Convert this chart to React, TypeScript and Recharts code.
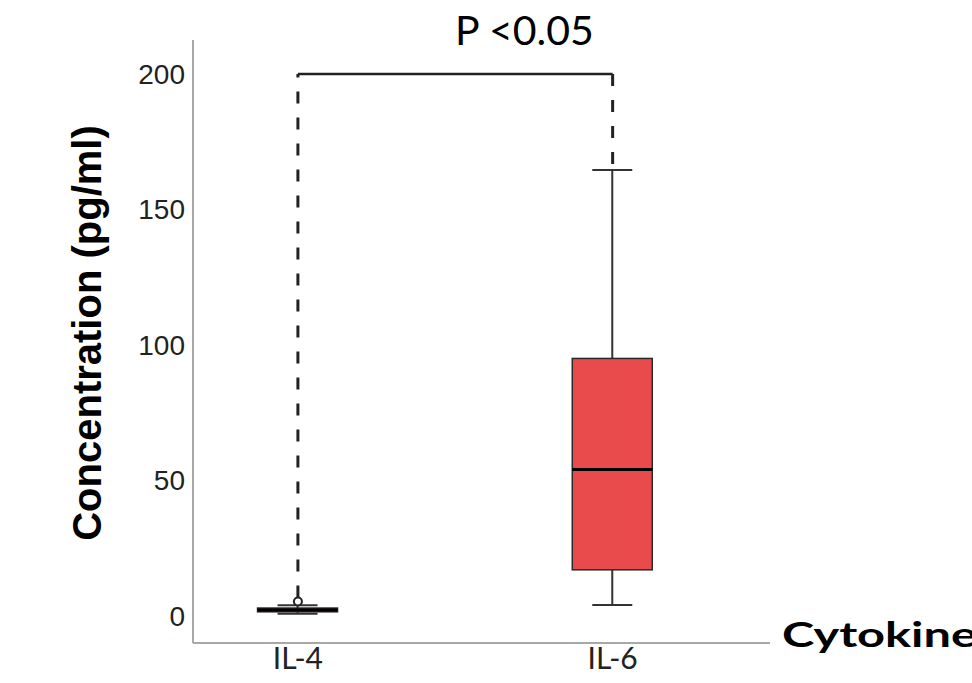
import React from 'react';
import { ComposedChart, XAxis, YAxis, Bar, Line, Scatter, Customized } from 'recharts';

const categories = ['IL-4', 'IL-6'];
const positions = [1, 2];
const whiskerLow = [0.8, 4];
const q1 = [1.5, 17];
const median = [2.2, 54];
const q3 = [2.9, 95];
const whiskerHigh = [3.9, 164.5];
const outlierPositions = [1];
const outlierValues = [5.3];
const yTicks = [0, 50, 100, 150, 200];
const bracketY = 200;
const legBottom = [6.8, 164.5];
const pLabel = 'P <0.05';
const yLabel = 'Concentration (pg/ml)';
const xLabel = 'Cytokine';
const boxColors = ['#5a1a1a', '#E94A4B'];

const boxData = categories.map((c, i) => ({
  x: positions[i],
  name: c,
  lo: whiskerLow[i],
  q1: q1[i],
  med: median[i],
  q3: q3[i],
  hi: whiskerHigh[i],
  color: boxColors[i],
}));

const outlierData = outlierValues.map((v, i) => ({ x: outlierPositions[i], y: v }));
const leftLeg = [
  { x: positions[0], y: legBottom[0] },
  { x: positions[0], y: bracketY },
];
const topBar = [
  { x: positions[0], y: bracketY },
  { x: positions[1], y: bracketY },
];
const rightLeg = [
  { x: positions[1], y: bracketY },
  { x: positions[1], y: legBottom[1] },
];

const BoxShape = (props: any) => {
  const { x, y, width, height, payload } = props;
  const top = Math.min(y, y + height);
  const h = Math.abs(height);
  const ppu = h / (payload.q3 - payload.q1);
  const bottom = top + h;
  const yOf = (v: number) => bottom - (v - payload.q1) * ppu;
  const cx = x + width / 2;
  const capHalf = width / 4;
  const stroke = '#333';
  return (
    <g>
      <line x1={cx} x2={cx} y1={yOf(payload.q3)} y2={yOf(payload.hi)} stroke={stroke} strokeWidth={2} />
      <line x1={cx} x2={cx} y1={yOf(payload.q1)} y2={yOf(payload.lo)} stroke={stroke} strokeWidth={2} />
      <line x1={cx - capHalf} x2={cx + capHalf} y1={yOf(payload.hi)} y2={yOf(payload.hi)} stroke={stroke} strokeWidth={2} />
      <line x1={cx - capHalf} x2={cx + capHalf} y1={yOf(payload.lo)} y2={yOf(payload.lo)} stroke={stroke} strokeWidth={2} />
      <rect x={x} y={top} width={width} height={h} fill={payload.color} stroke="#2a2a2a" strokeWidth={1.5} />
      <line x1={x} x2={x + width} y1={yOf(payload.med)} y2={yOf(payload.med)} stroke="#000" strokeWidth={3} />
    </g>
  );
};

const OutlierShape = (props: any) => {
  const { cx, cy } = props;
  return <circle cx={cx} cy={cy} r={4} fill="#fff" stroke="#222" strokeWidth={2} />;
};

const Texts = () => (
  <g>
    <text x={455} y={45} fontFamily="Lato" fontSize={41} fill="#000">{pLabel}</text>
    <text x={782} y={647} fontFamily="Lato" fontWeight="bold" fontSize={35} fill="#000" textLength={195} lengthAdjust="spacingAndGlyphs">{xLabel}</text>
    <text
      x={0}
      y={0}
      transform="translate(101,333) rotate(-90)"
      textAnchor="middle"
      fontFamily="Liberation Sans, Arial"
      fontWeight="bold"
      fontSize={40}
      fill="#000"
    >
      {yLabel}
    </text>
  </g>
);

export default function App() {
  return (
    <div style={{ position: 'absolute', left: 0, top: 0, background: '#fff' }}>
      <ComposedChart
        width={972}
        height={683}
        data={boxData}
        margin={{ top: 40, right: 202, bottom: 0, left: 0 }}
      >
        <XAxis
          dataKey="x"
          type="number"
          domain={[2 / 3, 2.5]}
          ticks={positions}
          allowDataOverflow
          tickFormatter={(v: number) => categories[positions.indexOf(v)] ?? ''}
          height={40}
          axisLine={{ stroke: '#a8a8a8', strokeWidth: 2 }}
          tickLine={false}
          tickSize={0}
          tickMargin={5}
          tick={{ fontFamily: 'Lato', fontSize: 30, fill: '#222' }}
        />
        <YAxis
          type="number"
          domain={[-10, 212.5]}
          ticks={yTicks}
          allowDataOverflow
          width={193}
          axisLine={{ stroke: '#a8a8a8', strokeWidth: 2 }}
          tickLine={false}
          tickSize={0}
          tickMargin={8}
          tick={{ fontFamily: 'Liberation Sans, Arial', fontSize: 28, fill: '#222' }}
        />
        <Line data={leftLeg} dataKey="y" stroke="#222" strokeWidth={3} strokeDasharray="12 14" dot={false} isAnimationActive={false} />
        <Line data={topBar} dataKey="y" stroke="#222" strokeWidth={2.5} dot={false} isAnimationActive={false} />
        <Line data={rightLeg} dataKey="y" stroke="#222" strokeWidth={3} strokeDasharray="12 14" dot={false} isAnimationActive={false} />
        <Bar dataKey={(d: any) => [d.q1, d.q3]} barSize={80} shape={BoxShape} isAnimationActive={false} />
        <Scatter data={outlierData} dataKey="y" shape={OutlierShape} isAnimationActive={false} />
        <Customized component={Texts} />
      </ComposedChart>
    </div>
  );
}
